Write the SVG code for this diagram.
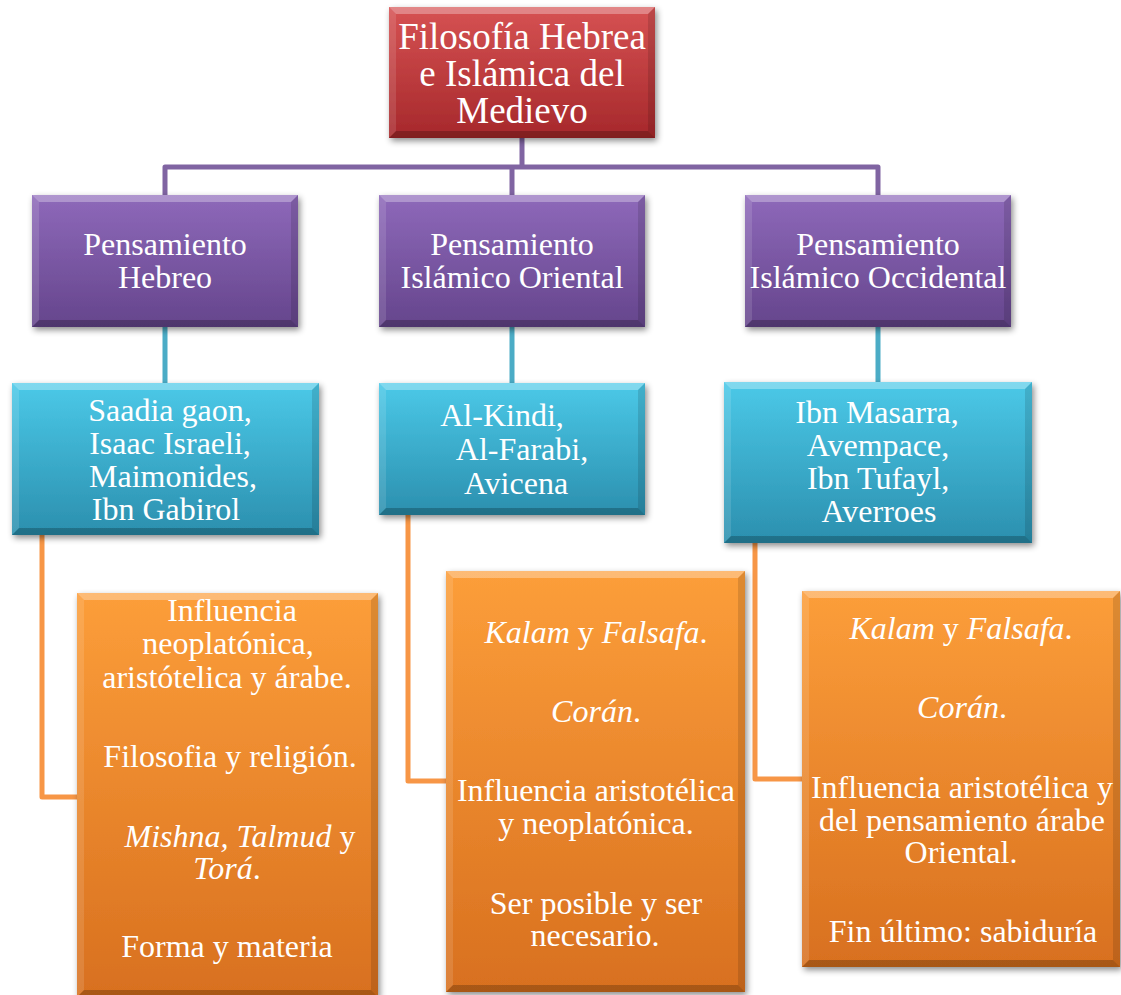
<svg xmlns="http://www.w3.org/2000/svg" width="1121" height="995" viewBox="0 0 1121 995">
<defs>
<linearGradient id="gRed" x1="0" y1="0" x2="0" y2="1"><stop offset="0" stop-color="#d65253"/><stop offset="1" stop-color="#a6282b"/></linearGradient>
<linearGradient id="gPur" x1="0" y1="0" x2="0" y2="1"><stop offset="0" stop-color="#8e69ba"/><stop offset="1" stop-color="#65458c"/></linearGradient>
<linearGradient id="gCya" x1="0" y1="0" x2="0" y2="1"><stop offset="0" stop-color="#4bc9e8"/><stop offset="1" stop-color="#2b8fae"/></linearGradient>
<linearGradient id="gOra" x1="0" y1="0" x2="0" y2="1"><stop offset="0" stop-color="#fc9e3a"/><stop offset="1" stop-color="#d8701f"/></linearGradient>
<filter id="sh" x="-10%" y="-10%" width="120%" height="120%"><feDropShadow dx="2" dy="3" stdDeviation="3" flood-color="#000" flood-opacity="0.45"/></filter>
</defs>
<style>
.t{font-family:"Liberation Serif","Times New Roman",serif;fill:#fff;text-anchor:middle;font-size:32px}
.tt{font-size:37px}
.i{font-style:italic}
.bt{fill:#fff;opacity:0.3}
.bl{fill:#fff;opacity:0.12}
.br{fill:#000;opacity:0.12}
.bb{fill:#000;opacity:0.22}
.cp{fill:none;stroke:#8064a2;stroke-width:5;stroke-linejoin:round}
.cc{fill:none;stroke:#4bacc6;stroke-width:5}
.co{fill:none;stroke:#f79646;stroke-width:5;stroke-linejoin:round}
</style>
<g id="connectors">
<path class="cp" d="M165,195 V167 H878 V195 M522,138 V167 M512,167 V195"/>
<path class="cc" d="M165,327 V383 M512,327 V383 M878,327 V382"/>
<path class="co" d="M42,535 V797 H77 M408,515 V781 H446 M755,543 V779 H802"/>
</g>
<g id="n-root">
<rect x="389" y="7" width="266" height="131" fill="url(#gRed)" filter="url(#sh)"/>
<polygon class="bt" points="389,7 655,7 648,14 396,14"/><polygon class="bb" points="389,138 655,138 648,131 396,131"/><polygon class="bl" points="389,7 396,14 396,131 389,138"/><polygon class="br" points="655,7 648,14 648,131 655,138"/>
<text class="t tt" x="522" y="49">Filosofía Hebrea</text>
<text class="t tt" x="522" y="86">e Islámica del</text>
<text class="t tt" x="522" y="123">Medievo</text>
</g>
<g id="n-hebreo">
<rect x="32" y="195" width="266" height="132" fill="url(#gPur)" filter="url(#sh)"/>
<polygon class="bt" points="32,195 298,195 291,202 39,202"/><polygon class="bb" points="32,327 298,327 291,320 39,320"/><polygon class="bl" points="32,195 39,202 39,320 32,327"/><polygon class="br" points="298,195 291,202 291,320 298,327"/>
<text class="t" x="165" y="255">Pensamiento</text>
<text class="t" x="165" y="288">Hebreo</text>
</g>
<g id="n-oriental">
<rect x="379" y="195" width="266" height="132" fill="url(#gPur)" filter="url(#sh)"/>
<polygon class="bt" points="379,195 645,195 638,202 386,202"/><polygon class="bb" points="379,327 645,327 638,320 386,320"/><polygon class="bl" points="379,195 386,202 386,320 379,327"/><polygon class="br" points="645,195 638,202 638,320 645,327"/>
<text class="t" x="512" y="255">Pensamiento</text>
<text class="t" x="512" y="288">Islámico Oriental</text>
</g>
<g id="n-occidental">
<rect x="745" y="195" width="266" height="132" fill="url(#gPur)" filter="url(#sh)"/>
<polygon class="bt" points="745,195 1011,195 1004,202 752,202"/><polygon class="bb" points="745,327 1011,327 1004,320 752,320"/><polygon class="bl" points="745,195 752,202 752,320 745,327"/><polygon class="br" points="1011,195 1004,202 1004,320 1011,327"/>
<text class="t" x="878" y="255">Pensamiento</text>
<text class="t" x="878" y="288">Islámico Occidental</text>
</g>
<g id="n-hebreos">
<rect x="12" y="383" width="307" height="152" fill="url(#gCya)" filter="url(#sh)"/>
<polygon class="bt" points="12,383 319,383 312,390 19,390"/><polygon class="bb" points="12,535 319,535 312,528 19,528"/><polygon class="bl" points="12,383 19,390 19,528 12,535"/><polygon class="br" points="319,383 312,390 312,528 319,535"/>
<text class="t" x="170" y="421">Saadia gaon,</text>
<text class="t" x="170" y="454">Isaac Israeli,</text>
<text class="t" x="173" y="487">Maimonides,</text>
<text class="t" x="166" y="520">Ibn Gabirol</text>
</g>
<g id="n-orientales">
<rect x="379" y="383" width="266" height="132" fill="url(#gCya)" filter="url(#sh)"/>
<polygon class="bt" points="379,383 645,383 638,390 386,390"/><polygon class="bb" points="379,515 645,515 638,508 386,508"/><polygon class="bl" points="379,383 386,390 386,508 379,515"/><polygon class="br" points="645,383 638,390 638,508 645,515"/>
<text class="t" x="502" y="426">Al-Kindi,</text>
<text class="t" x="522" y="460">Al-Farabi,</text>
<text class="t" x="516" y="494">Avicena</text>
</g>
<g id="n-occidentales">
<rect x="724" y="382" width="308" height="161" fill="url(#gCya)" filter="url(#sh)"/>
<polygon class="bt" points="724,382 1032,382 1025,389 731,389"/><polygon class="bb" points="724,543 1032,543 1025,536 731,536"/><polygon class="bl" points="724,382 731,389 731,536 724,543"/><polygon class="br" points="1032,382 1025,389 1025,536 1032,543"/>
<text class="t" x="877" y="423">Ibn Masarra,</text>
<text class="t" x="878" y="456">Avempace,</text>
<text class="t" x="878" y="489">Ibn Tufayl,</text>
<text class="t" x="879" y="522">Averroes</text>
</g>
<g id="n-hebreo-ideas">
<rect x="77" y="593" width="301" height="404" fill="url(#gOra)" filter="url(#sh)"/>
<polygon class="bt" points="77,593 378,593 371,600 84,600"/><polygon class="bb" points="77,997 378,997 371,990 84,990"/><polygon class="bl" points="77,593 84,600 84,990 77,997"/><polygon class="br" points="378,593 371,600 371,990 378,997"/>
<text class="t" x="232" y="621">Influencia</text>
<text class="t" x="228" y="654">neoplatónica,</text>
<text class="t" x="227" y="688">aristótelica y árabe.</text>
<text class="t" x="230" y="767">Filosofia y religión.</text>
<text class="t" x="240" y="847"><tspan class="i">Mishna, Talmud</tspan> y</text>
<text class="t" x="227" y="879"><tspan class="i">Torá</tspan>.</text>
<text class="t" x="227" y="957">Forma y materia</text>
</g>
<g id="n-oriental-ideas">
<rect x="446" y="571" width="299" height="421" fill="url(#gOra)" filter="url(#sh)"/>
<polygon class="bt" points="446,571 745,571 738,578 453,578"/><polygon class="bb" points="446,992 745,992 738,985 453,985"/><polygon class="bl" points="446,571 453,578 453,985 446,992"/><polygon class="br" points="745,571 738,578 738,985 745,992"/>
<text class="t" x="596" y="643"><tspan class="i">Kalam</tspan> y <tspan class="i">Falsafa</tspan>.</text>
<text class="t" x="596" y="722"><tspan class="i">Corán</tspan>.</text>
<text class="t" x="596" y="801">Influencia aristotélica</text>
<text class="t" x="596" y="834">y neoplatónica.</text>
<text class="t" x="596" y="914">Ser posible y ser</text>
<text class="t" x="595" y="946">necesario.</text>
</g>
<g id="n-occidental-ideas">
<rect x="802" y="591" width="318" height="376" fill="url(#gOra)" filter="url(#sh)"/>
<polygon class="bt" points="802,591 1120,591 1113,598 809,598"/><polygon class="bb" points="802,967 1120,967 1113,960 809,960"/><polygon class="bl" points="802,591 809,598 809,960 802,967"/><polygon class="br" points="1120,591 1113,598 1113,960 1120,967"/>
<text class="t" x="961" y="639"><tspan class="i">Kalam</tspan> y <tspan class="i">Falsafa</tspan>.</text>
<text class="t" x="962" y="718"><tspan class="i">Corán</tspan>.</text>
<text class="t" x="962" y="798">Influencia aristotélica y</text>
<text class="t" x="962" y="831">del pensamiento árabe</text>
<text class="t" x="961" y="863">Oriental.</text>
<text class="t" x="963" y="942">Fin último: sabiduría</text>
</g>
</svg>
